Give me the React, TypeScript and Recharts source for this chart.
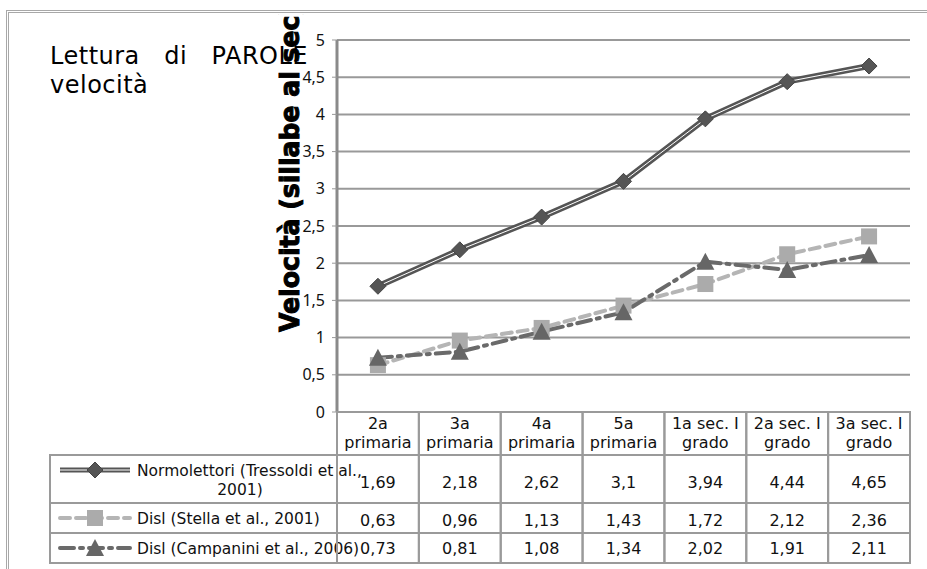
import { LineChart, Line, XAxis, YAxis, CartesianGrid, Customized } from 'recharts'

const categories = ['2a\nprimaria', '3a\nprimaria', '4a\nprimaria', '5a\nprimaria', '1a sec. I\ngrado', '2a sec. I\ngrado', '3a sec. I\ngrado']
const normolettori = [1.69, 2.18, 2.62, 3.1, 3.94, 4.44, 4.65]
const stella = [0.63, 0.96, 1.13, 1.43, 1.72, 2.12, 2.36]
const campanini = [0.73, 0.81, 1.08, 1.34, 2.02, 1.91, 2.11]
const yTicks = [0, 0.5, 1, 1.5, 2, 2.5, 3, 3.5, 4, 4.5, 5]
const seriesNames = ['Normolettori (Tressoldi et al., 2001)', 'Disl (Stella et al., 2001)', 'Disl (Campanini et al., 2006)']

const data = categories.map((cat, i) => ({
  cat,
  normo: normolettori[i],
  stella: stella[i],
  campanini: campanini[i],
}))

const font = '"DejaVu Sans", sans-serif'
const border = '#9a9a9a'
const fmt = (v: number) => String(v).replace('.', ',')

const diamond = (cx: number, cy: number, key?: any) => (
  <path key={key} d={`M${cx},${cy - 8}L${cx + 8},${cy}L${cx},${cy + 8}L${cx - 8},${cy}Z`} fill="#555" stroke="#444" strokeWidth={1} />
)
const square = (cx: number, cy: number, key?: any) => (
  <rect key={key} x={cx - 8} y={cy - 8} width={16} height={16} fill="#ababab" />
)
const triangle = (cx: number, cy: number, key?: any) => (
  <path key={key} d={`M${cx},${cy - 9}L${cx + 9},${cy + 8}L${cx - 9},${cy + 8}Z`} fill="#666" />
)

function TableTick(props: any) {
  const { x, y, payload } = props
  const i = payload.index
  const half = payload.offset || 41
  const left = x - half
  const [top, bottom] = String(payload.value).split('\n')
  const rows = [normolettori[i], stella[i], campanini[i]]
  const rowY = [76, 114, 142]
  return (
    <g fontFamily={font} fontSize={16} fill="#111">
      <rect x={left} y={y} width={half * 2} height={151} fill="none" stroke={border} strokeWidth={2} />
      <line x1={left} x2={left + half * 2} y1={y + 43} y2={y + 43} stroke={border} strokeWidth={2} />
      <line x1={left} x2={left + half * 2} y1={y + 91} y2={y + 91} stroke={border} strokeWidth={2} />
      <line x1={left} x2={left + half * 2} y1={y + 121} y2={y + 121} stroke={border} strokeWidth={2} />
      <text x={x} y={y + 17} textAnchor="middle">{top}</text>
      <text x={x} y={y + 36} textAnchor="middle">{bottom}</text>
      {rows.map((v, r) => (
        <text key={r} x={x} y={y + rowY[r]} textAnchor="middle">{fmt(v)}</text>
      ))}
    </g>
  )
}

function LegendRows() {
  return (
    <g fontFamily={font} fontSize={15.5} fill="#111">
      <rect x={50} y={455} width={287} height={108} fill="none" stroke={border} strokeWidth={2} />
      <line x1={50} x2={337} y1={503} y2={503} stroke={border} strokeWidth={2} />
      <line x1={50} x2={337} y1={533} y2={533} stroke={border} strokeWidth={2} />
      <line x1={60} x2={130} y1={470} y2={470} stroke="#555" strokeWidth={5} />
      <line x1={60} x2={130} y1={470} y2={470} stroke="#fff" strokeWidth={1} />
      {diamond(95, 470)}
      <text x={137} y={476}>Normolettori (Tressoldi et al.,</text>
      <text x={240} y={495} textAnchor="middle">2001)</text>
      <line x1={60} x2={130} y1={518} y2={518} stroke="#b5b5b5" strokeWidth={4} strokeDasharray="10 6" strokeLinecap="round" />
      {square(95, 518)}
      <text x={137} y={524}>{seriesNames[1]}</text>
      <line x1={60} x2={130} y1={548} y2={548} stroke="#6a6a6a" strokeWidth={4} strokeDasharray="14 6 3 6" strokeLinecap="round" />
      {triangle(95, 548)}
      <text x={137} y={554}>{seriesNames[2]}</text>
    </g>
  )
}

const YLabel = () => (
  <g clipPath="url(#ylab-clip)">
    <defs>
      <clipPath id="ylab-clip" clipPathUnits="userSpaceOnUse">
        <rect x={0} y={14} width={927} height={560} />
      </clipPath>
    </defs>
    <text
      transform="translate(299, 332) rotate(-90)"
      fontFamily='"DejaVu Sans", sans-serif'
      fontSize={27}
      fontWeight={900}
      fill="#000"
      stroke="#000"
      strokeWidth={1}
      textAnchor="start"
      textLength={328}
      lengthAdjust="spacingAndGlyphs"
    >
      Velocità (sillabe al sec)
    </text>
  </g>
)

export default function App() {
  return (
    <div style={{ position: 'absolute', left: 0, top: 0, width: 927, height: 569, overflow: 'hidden', background: '#fff' }}>
      <div style={{ position: 'absolute', left: 6, top: 10, width: 940, height: 580, border: '3px double #a8a8a8' }} />
      <div
        style={{
          position: 'absolute',
          left: 50,
          top: 42,
          width: 258,
          fontFamily: '"DejaVu Sans", sans-serif',
          fontSize: 24,
          letterSpacing: 0.5,
          lineHeight: '29px',
          textAlign: 'justify',
          color: '#000',
        }}
      >
        Lettura di PAROLE velocità
      </div>
      <div style={{ position: 'absolute', left: 0, top: 0 }}>
        <LineChart width={927} height={569} data={data} margin={{ top: 40, right: 17, bottom: 6, left: 277 }}>
          <CartesianGrid vertical={false} stroke="#999" strokeWidth={2} />
          <XAxis
            dataKey="cat"
            scale="band"
            height={151}
            axisLine={false}
            tickLine={false}
            tickSize={0}
            tickMargin={0}
            interval={0}
            tick={<TableTick />}
          />
          <YAxis
            domain={[0, 5]}
            ticks={yTicks}
            width={60}
            tickFormatter={fmt}
            tick={{ fontSize: 16, fill: '#111', fontFamily: '"Noto Sans", sans-serif' }}
            tickSize={5}
            tickMargin={7}
            axisLine={{ stroke: '#8a8a8a', strokeWidth: 3 }}
            tickLine={{ stroke: '#999' }}
            label={{ content: YLabel }}
          />
          <Line
            dataKey="normo"
            name={seriesNames[0]}
            stroke="#555"
            strokeWidth={6}
            isAnimationActive={false}
            dot={(p: any) => diamond(p.cx, p.cy, p.index)}
          />
          <Line dataKey="normo" stroke="#fff" strokeWidth={1} dot={false} legendType="none" isAnimationActive={false} />
          <Line
            dataKey="stella"
            name={seriesNames[1]}
            stroke="#b5b5b5"
            strokeWidth={4}
            strokeDasharray="10 6"
            strokeLinecap="round"
            isAnimationActive={false}
            dot={(p: any) => square(p.cx, p.cy, p.index)}
          />
          <Line
            dataKey="campanini"
            name={seriesNames[2]}
            stroke="#6a6a6a"
            strokeWidth={4}
            strokeDasharray="14 6 3 6"
            strokeLinecap="round"
            isAnimationActive={false}
            dot={(p: any) => triangle(p.cx, p.cy, p.index)}
          />
          <Customized component={LegendRows} />
        </LineChart>
      </div>
    </div>
  )
}
